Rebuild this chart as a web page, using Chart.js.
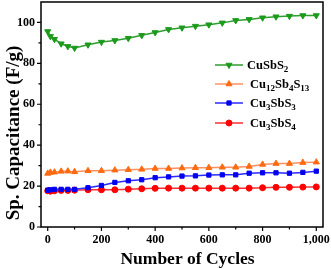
<!DOCTYPE html>
<html>
<head>
<meta charset="utf-8">
<script src="https://cdn.jsdelivr.net/npm/chart.js@4/dist/chart.umd.min.js"></script>
<style>
  html, body { margin: 0; padding: 0; background: #fff; }
  #wrap { width: 331px; height: 269px; }
</style>
</head>
<body>
<div id="wrap"><canvas id="chart" width="331" height="269"></canvas></div>
<script>
// cycle numbers where capacitance was measured
const cycles = [0, 10, 25, 50, 75, 100, 150, 200, 250, 300, 350, 400, 450, 500,
                550, 600, 650, 700, 750, 800, 850, 900, 950, 1000];

// specific capacitance (F/g)
const cuSbS2 = [95.6, 93.2, 91.8, 89.6, 88.3, 87.5, 89.1, 90.4, 91.2, 92.3, 93.7, 95.1, 96.6, 97.4,
                98.2, 98.9, 99.8, 101.0, 101.5, 102.3, 102.8, 103.1, 103.4, 103.4];
const cu12Sb4S13 = [26.2, 26.7, 26.8, 27.2, 27.3, 27.0, 27.5, 27.5, 27.8, 28.0, 28.2, 28.6, 28.6, 28.8,
                    29.0, 29.0, 29.2, 29.2, 29.6, 30.6, 31.0, 31.0, 31.5, 31.7];
const cu3SbS3 = [18.0, 18.2, 18.4, 18.4, 18.4, 18.4, 19.2, 20.3, 21.8, 22.6, 23.1, 24.1, 24.5, 24.9,
                 25.0, 25.4, 25.5, 25.5, 26.3, 26.5, 26.5, 26.3, 26.7, 27.3];
const cu3SbS4 = [17.7, 17.5, 17.7, 17.9, 17.9, 18.0, 18.2, 18.2, 18.2, 18.5, 18.7, 18.9, 19.0, 19.0,
                 19.0, 19.0, 19.0, 19.0, 19.0, 19.2, 19.4, 19.4, 19.5, 19.6];

const seriesNames = ['CuSbS2', 'Cu12Sb4S13', 'Cu3SbS3', 'Cu3SbS4'];
const xTicks = [0, 200, 400, 600, 800, 1000];
const yTicks = [0, 20, 40, 60, 80, 100];
const xMinorTicks = [100, 300, 500, 700, 900];
const yMinorTicks = [10, 30, 50, 70, 90];
const xTitle = 'Number of Cycles';
const yTitle = 'Sp. Capacitance (F/g)';

const serif = "'Liberation Serif', 'Times New Roman', serif";

function series(label, values, line, fill, style, rotation, radius) {
  return {
    label: label,
    data: cycles.map((c, i) => ({ x: c, y: values[i] })),
    borderColor: line,
    backgroundColor: fill,
    pointBackgroundColor: fill,
    pointBorderColor: fill,
    pointStyle: style,
    rotation: rotation,
    pointRadius: radius,
    borderWidth: 1.5,
    pointBorderWidth: 1,
    tension: 0
  };
}

// axis ticks (major + minor), frame box, axis titles and an inset legend with subscripts
const decor = {
  id: 'decor',
  afterDraw(chart) {
    const ctx = chart.ctx;
    const a = chart.chartArea;
    const xs = chart.scales.x, ys = chart.scales.y;
    ctx.save();
    ctx.strokeStyle = '#000';
    ctx.lineWidth = 1.5;
    ctx.strokeRect(a.left, a.top, a.right - a.left, a.bottom - a.top);
    ctx.lineWidth = 1.2;
    ctx.beginPath();
    xTicks.forEach(v => { const p = xs.getPixelForValue(v); ctx.moveTo(p, a.bottom); ctx.lineTo(p, a.bottom + 4); });
    xMinorTicks.forEach(v => { const p = xs.getPixelForValue(v); ctx.moveTo(p, a.bottom); ctx.lineTo(p, a.bottom + 2.5); });
    yTicks.forEach(v => { const p = ys.getPixelForValue(v); ctx.moveTo(a.left, p); ctx.lineTo(a.left - 4, p); });
    yMinorTicks.forEach(v => { const p = ys.getPixelForValue(v); ctx.moveTo(a.left, p); ctx.lineTo(a.left - 2.5, p); });
    ctx.stroke();

    // axis titles
    ctx.fillStyle = '#000';
    ctx.textAlign = 'center';
    ctx.textBaseline = 'middle';
    ctx.font = 'bold 17.5px ' + serif;
    ctx.fillText(xTitle, 187.5, 259);
    ctx.save();
    ctx.translate(14, 133);
    ctx.rotate(-Math.PI / 2);
    ctx.font = 'bold 19px ' + serif;
    ctx.fillText(yTitle, 0, 0);
    ctx.restore();

    // legend
    const rows = [65, 84, 103, 123];
    const textX = [247, 250, 250, 250];
    ctx.textAlign = 'left';
    chart.data.datasets.forEach((ds, i) => {
      const y = rows[i];
      ctx.strokeStyle = ds.borderColor;
      ctx.lineWidth = 1.5;
      ctx.beginPath();
      ctx.moveTo(215, y);
      ctx.lineTo(243, y);
      ctx.stroke();
      ctx.fillStyle = ds.pointBackgroundColor;
      ctx.strokeStyle = ds.pointBorderColor;
      ctx.lineWidth = 1;
      Chart.helpers.drawPoint(ctx, { pointStyle: ds.pointStyle, rotation: ds.rotation, radius: ds.pointRadius, borderWidth: 1 }, 229, y);
      // label with numeric subscripts
      let x = textX[i];
      ctx.fillStyle = '#000';
      ctx.textBaseline = 'alphabetic';
      const parts = ds.label.match(/\d+|\D+/g);
      parts.forEach(p => {
        const sub = /\d/.test(p);
        ctx.font = 'bold ' + (sub ? 9 : 12.5) + 'px ' + serif;
        ctx.fillText(p, x, y + 4 + (sub ? 3 : 0));
        x += ctx.measureText(p).width;
      });
    });
    ctx.restore();
  }
};

new Chart(document.getElementById('chart').getContext('2d'), {
  type: 'line',
  data: {
    datasets: [
      series(seriesNames[0], cuSbS2, '#2e9e2e', '#1c9a1c', 'triangle', 180, 3.5),
      series(seriesNames[1], cu12Sb4S13, '#ff9060', '#ff6a10', 'triangle', 0, 3.5),
      series(seriesNames[2], cu3SbS3, '#2a2aff', '#0000f0', 'rect', 0, 3),
      series(seriesNames[3], cu3SbS4, '#ff3030', '#ff0000', 'circle', 0, 3)
    ]
  },
  options: {
    responsive: false,
    animation: false,
    devicePixelRatio: 1,
    layout: { autoPadding: false, padding: { top: 2, right: 8, left: 0, bottom: 0 } },
    plugins: { legend: { display: false }, tooltip: { enabled: false } },
    scales: {
      x: {
        type: 'linear',
        min: -25,
        max: 1025,
        afterBuildTicks: s => { s.ticks = xTicks.map(v => ({ value: v })); },
        afterFit: s => { s.height = 42; s.paddingLeft = 0; s.paddingRight = 0; },
        grid: { display: false, drawTicks: false },
        border: { display: false },
        ticks: { padding: 6, color: '#000', font: { family: serif, size: 12, weight: 'bold' }, maxRotation: 0 }
      },
      y: {
        min: 0,
        max: 110,
        afterBuildTicks: s => { s.ticks = yTicks.map(v => ({ value: v })); },
        afterFit: s => { s.width = 41; s.paddingTop = 0; s.paddingBottom = 0; },
        grid: { display: false, drawTicks: false },
        border: { display: false },
        ticks: { padding: 6, color: '#000', font: { family: serif, size: 12, weight: 'bold' } }
      }
    }
  },
  plugins: [decor]
});
</script>
</body>
</html>
